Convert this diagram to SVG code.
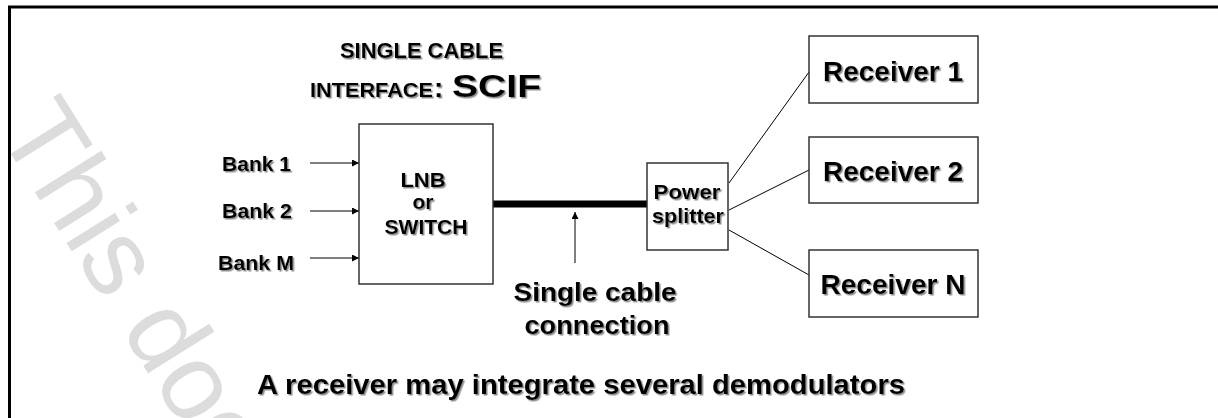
<svg xmlns="http://www.w3.org/2000/svg" width="1218" height="418" viewBox="0 0 1218 418">
<defs>
<filter id="sh" x="-5%" y="-20%" width="110%" height="140%">
<feDropShadow dx="1.5" dy="1.5" stdDeviation="0.7" flood-color="#707070" flood-opacity="0.8"/>
</filter>
<marker id="ah" viewBox="0 0 10 10" refX="10" refY="5" markerWidth="7" markerHeight="7" markerUnits="userSpaceOnUse" orient="auto">
<path d="M0,0 L10,5 L0,10 z" fill="#000"/>
</marker>
</defs>
<style>
.t{font-family:"Liberation Sans",Arial,sans-serif;font-weight:bold;fill:#000;}
.box{fill:#fff;stroke:#333;stroke-width:1.5;}
.wm{font-family:"Liberation Sans",Arial,sans-serif;font-size:108px;fill:#dcdcdc;}
.ln{stroke:#000;stroke-width:1;fill:none;}
</style>
<rect width="1218" height="418" fill="#fff"/>
<text class="wm" transform="translate(-4,130) rotate(58)">This doc</text>
<path d="M9.5,418 V7 H1218" fill="none" stroke="#000" stroke-width="3"/>
<g id="title" filter="url(#sh)">
<text class="t" x="340" y="58" font-size="22" textLength="163" lengthAdjust="spacingAndGlyphs">SINGLE CABLE</text>
<text class="t" x="310" y="97" font-size="20" textLength="123" lengthAdjust="spacingAndGlyphs">INTERFACE</text>
<text class="t" x="434" y="97" font-size="28">:</text>
<text class="t" x="452" y="97" font-size="32" textLength="89" lengthAdjust="spacingAndGlyphs">SCIF</text>
</g>
<g id="connectors">
<line class="ln" x1="310" y1="163" x2="359" y2="163" marker-end="url(#ah)"/>
<line class="ln" x1="310" y1="211" x2="359" y2="211" marker-end="url(#ah)"/>
<line class="ln" x1="310" y1="258" x2="359" y2="258" marker-end="url(#ah)"/>
<line x1="493" y1="204" x2="647" y2="204" stroke="#000" stroke-width="7"/>
<line class="ln" x1="575" y1="263" x2="575" y2="212" stroke="#333" marker-end="url(#ah)"/>
<line class="ln" x1="729" y1="183" x2="809" y2="72"/>
<line class="ln" x1="729" y1="210" x2="809" y2="170"/>
<line class="ln" x1="729" y1="230" x2="809" y2="275"/>
</g>
<g id="bank1" filter="url(#sh)"><text class="t" x="222" y="171" font-size="20" textLength="69" lengthAdjust="spacingAndGlyphs">Bank 1</text></g>
<g id="bank2" filter="url(#sh)"><text class="t" x="222" y="218" font-size="20" textLength="70" lengthAdjust="spacingAndGlyphs">Bank 2</text></g>
<g id="bankM" filter="url(#sh)"><text class="t" x="218" y="270" font-size="20" textLength="76" lengthAdjust="spacingAndGlyphs">Bank M</text></g>
<g id="lnb">
<rect class="box" x="359" y="124" width="134" height="160"/>
<g filter="url(#sh)" text-anchor="middle">
<text class="t" x="423" y="187" font-size="21" textLength="45" lengthAdjust="spacingAndGlyphs">LNB</text>
<text class="t" x="423" y="209" font-size="21">or</text>
<text class="t" x="426" y="234" font-size="21" textLength="83" lengthAdjust="spacingAndGlyphs">SWITCH</text>
</g>
</g>
<g id="splitter">
<rect class="box" x="647" y="163" width="81" height="87"/>
<g filter="url(#sh)" text-anchor="middle">
<text class="t" x="687" y="199" font-size="21" textLength="67" lengthAdjust="spacingAndGlyphs">Power</text>
<text class="t" x="688" y="223" font-size="21" textLength="72" lengthAdjust="spacingAndGlyphs">splitter</text>
</g>
</g>
<g id="receiver1">
<rect class="box" x="809" y="36" width="169" height="67"/>
<text class="t" x="893" y="81" font-size="27" text-anchor="middle" textLength="140" lengthAdjust="spacingAndGlyphs" filter="url(#sh)">Receiver 1</text>
</g>
<g id="receiver2">
<rect class="box" x="809" y="137" width="169" height="66"/>
<text class="t" x="893" y="181" font-size="27" text-anchor="middle" textLength="140" lengthAdjust="spacingAndGlyphs" filter="url(#sh)">Receiver 2</text>
</g>
<g id="receiverN">
<rect class="box" x="809" y="250" width="169" height="67"/>
<text class="t" x="893" y="294" font-size="27" text-anchor="middle" textLength="145" lengthAdjust="spacingAndGlyphs" filter="url(#sh)">Receiver N</text>
</g>
<g id="cable-label" filter="url(#sh)" text-anchor="middle">
<text class="t" x="595" y="301" font-size="26" textLength="163" lengthAdjust="spacingAndGlyphs">Single cable</text>
<text class="t" x="597" y="334" font-size="26" textLength="145" lengthAdjust="spacingAndGlyphs">connection</text>
</g>
<g id="note" filter="url(#sh)">
<text class="t" x="257" y="394" font-size="28" textLength="648" lengthAdjust="spacingAndGlyphs">A receiver may integrate several demodulators</text>
</g>
</svg>
